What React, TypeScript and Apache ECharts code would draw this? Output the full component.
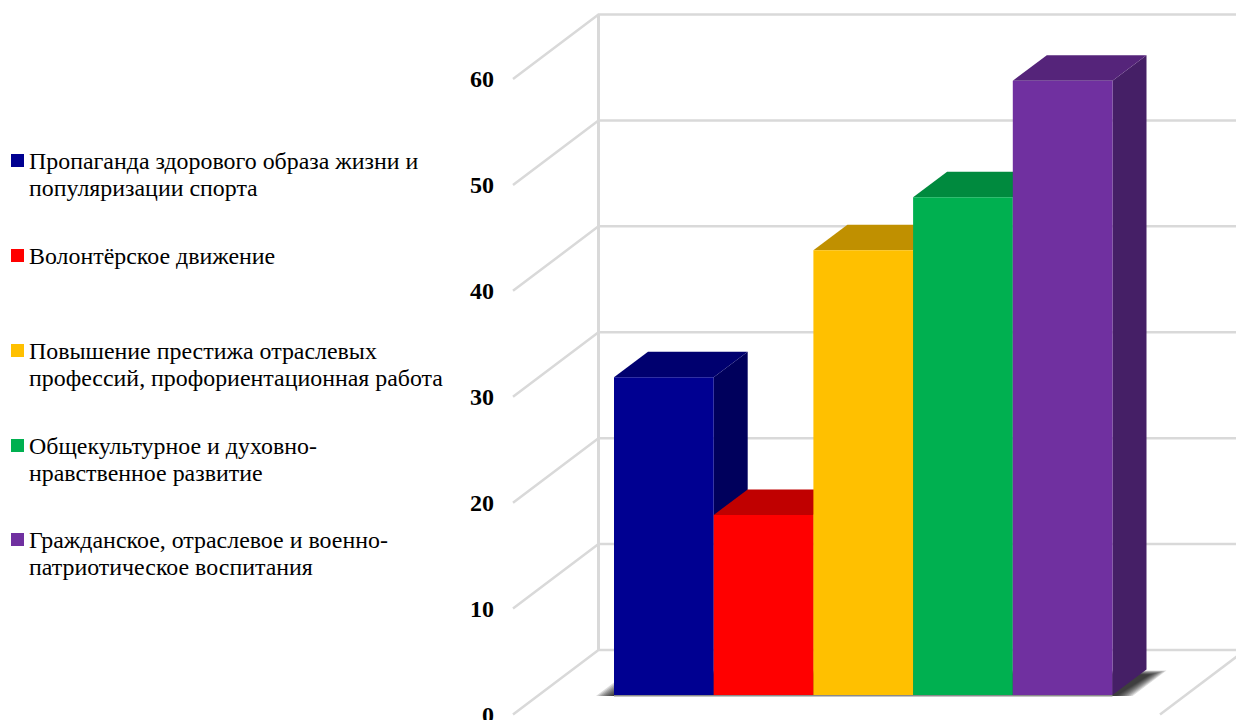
import React, { useEffect, useRef } from "react";
import * as echarts from "echarts";

const categories = [
  "Пропаганда здорового образа жизни и\nпопуляризации спорта",
  "Волонтёрское движение",
  "Повышение престижа отраслевых\nпрофессий, профориентационная работа",
  "Общекультурное и духовно-\nнравственное развитие",
  "Гражданское, отраслевое и военно-\nпатриотическое воспитания",
];
const values = [30, 17, 42, 47, 58];
const yTicks = [0, 10, 20, 30, 40, 50, 60];
const frontColors = ["#000091", "#ff0000", "#ffc000", "#00b050", "#7030a0"];
const topColors = ["#00006f", "#c00000", "#c09000", "#008a3e", "#55247a"];
const sideColors = ["#00005c", "#a80000", "#a67c00", "#00753a", "#451f66"];
const legendTops = [147, 242, 337, 432, 526];
const shadowLayers = [16, 14, 12, 10, 8, 6, 4, 2, 0];

const GRID = "#d9d9d9";
const WALL_DX = 85.5;
const WALL_DY = -64.5;
const FRONT_X = 513;
const BAR_DX = 34;
const BAR_DY = -25.5;
const BASE_LIFT = 19.5;

const poly = (points: number[][], fill: string, extra: any = {}) => ({
  type: "polygon",
  shape: { points },
  style: { fill, ...extra },
});
const line = (points: number[][], width = 2.5) => ({
  type: "polyline",
  shape: { points },
  style: { fill: "none", stroke: GRID, lineWidth: width },
});

const twoLineIcon = "path://M0 0H13V13H0Z M0 40L0 40Z";
const oneLineIcon = "rect";

export default function App() {
  const ref = useRef<HTMLDivElement>(null);
  useEffect(() => {
    document.body.style.overflow = "hidden";
    const chart = echarts.init(ref.current!, undefined, { renderer: "svg" });

    const wallSeries = {
      type: "custom",
      name: "wall",
      silent: true,
      z: 1,
      coordinateSystem: "cartesian2d",
      encode: { x: 0, y: 1 },
      data: yTicks.map((t) => [0, t]),
      renderItem: (params: any, api: any) => {
        const y = api.coord([0, api.value(1)])[1];
        const backX = FRONT_X + WALL_DX;
        const backY = y + WALL_DY;
        const children: any[] = [
          line([[FRONT_X, y], [backX, backY], [1300, backY]]),
        ];
        if (api.value(1) === 0) {
          const top = api.coord([0, 60])[1] + WALL_DY;
          children.push(line([[backX, top], [backX, backY]], 3));
          children.push(line([[1160, y], [1160 + WALL_DX, y + WALL_DY]]));
        }
        return { type: "group", children };
      },
    };

    const shadowSeries = {
      type: "custom",
      name: "shadow",
      silent: true,
      z: 2,
      coordinateSystem: "cartesian2d",
      encode: { x: 0, y: 1 },
      data: [[0, 0]],
      renderItem: (params: any, api: any) => {
        const w = api.size([1, 0])[0];
        const first = api.coord([0, 0]);
        const last = api.coord([categories.length - 1, 0]);
        const yb = first[1] - BASE_LIFT;
        const xl = first[0] - w / 2;
        const xr = last[0] + w / 2;
        const children: any[] = shadowLayers.map((e) =>
          poly(
            [
              [xl - 2 - e, yb + 1],
              [xr + 4 + e, yb + 1],
              [xr + BAR_DX + 4 + e, yb + BAR_DY + 5 - e * 0.25],
              [xl + BAR_DX - 2 - e, yb + BAR_DY + 5 - e * 0.25],
            ],
            "#000",
            { opacity: 0.14 }
          )
        );
        children.push(line([[xl, yb + 0.8], [xr, yb + 0.8]], 1.6));
        children[children.length - 1].style.stroke = "#8a8a8a";
        return { type: "group", children };
      },
    };

    const barSeries = categories.map((name, i) => ({
      type: "custom",
      name,
      silent: true,
      z: 3,
      coordinateSystem: "cartesian2d",
      encode: { x: 0, y: 1 },
      itemStyle: { color: frontColors[i] },
      data: [[i, values[i]]],
      renderItem: (params: any, api: any) => {
        const idx = api.value(0);
        const w = api.size([1, 0])[0];
        const top = api.coord([idx, api.value(1)]);
        const base = api.coord([idx, 0]);
        const xl = top[0] - w / 2;
        const xr = top[0] + w / 2;
        const yt = top[1] - BASE_LIFT;
        const yb = base[1] - BASE_LIFT;
        return {
          type: "group",
          children: [
            poly([[xr, yt], [xr + BAR_DX, yt + BAR_DY], [xr + BAR_DX, yb + BAR_DY], [xr, yb]], sideColors[i]),
            poly([[xl, yt], [xl + BAR_DX, yt + BAR_DY], [xr + BAR_DX, yt + BAR_DY], [xr, yt]], topColors[i]),
            { type: "rect", shape: { x: xl, y: yt, width: xr - xl, height: yb - yt }, style: { fill: frontColors[i] } },
          ],
        };
      },
    }));

    chart.setOption({
      animation: false,
      textStyle: { fontFamily: "Liberation Serif" },
      grid: { left: 614, top: 79, width: 498.5, height: 635.5, outerBoundsMode: "none" },
      xAxis: { type: "category", data: categories, show: false },
      yAxis: {
        type: "value",
        min: 0,
        max: 60,
        interval: 10,
        offset: 101,
        axisLine: { show: false },
        axisTick: { show: false },
        splitLine: { show: false },
        axisLabel: {
          margin: 19,
          color: "#000",
          fontFamily: "Liberation Serif",
          fontWeight: "bold",
          fontSize: 24,
          hideOverlap: false,
        },
      },
      legend: categories.map((name, i) => ({
        show: true,
        left: 11,
        top: legendTops[i],
        padding: 0,
        orient: "vertical",
        selectedMode: false,
        itemWidth: 13,
        itemHeight: name.includes("\n") ? 40 : 13,
        itemGap: 0,
        data: [{ name, icon: name.includes("\n") ? twoLineIcon : oneLineIcon, itemStyle: { color: frontColors[i] } }],
        textStyle: {
          color: "#000",
          fontFamily: "Liberation Serif",
          fontSize: 23.9,
          lineHeight: 27,
        },
      })),
      series: [wallSeries, shadowSeries, ...barSeries],
    });
    return () => chart.dispose();
  }, []);
  return <div ref={ref} style={{ position: "absolute", left: 0, top: 0, width: 1236, height: 720 }} />;
}
